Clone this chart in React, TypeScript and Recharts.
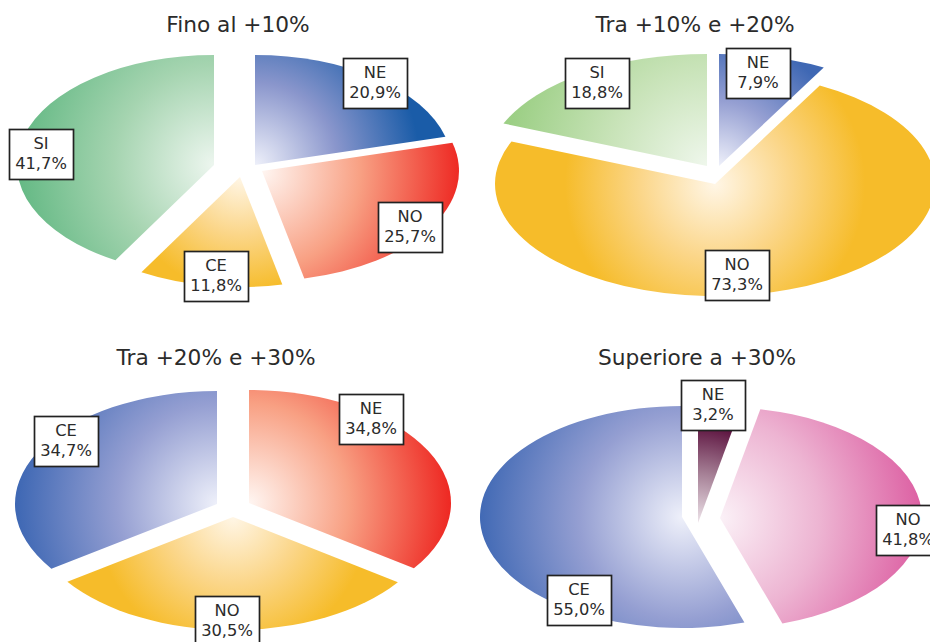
import React from 'react';
import { PieChart, Pie } from 'recharts';

const WIDTH = 930;
const HEIGHT = 642;
const FONT = '"DejaVu Sans", Verdana, sans-serif';
const TEXT_COLOR = '#2b2b2b';
const BOX_W = 64;
const BOX_H = 50;

const titles = ['Fino al +10%', 'Tra +10% e +20%', 'Tra +20% e +30%', 'Superiore a +30%'];

// area names and shares for each panel
const names1 = ['NE', 'NO', 'CE', 'SI'];
const values1 = [20.9, 25.7, 11.8, 41.7];
const names2 = ['NE', 'NO', 'SI'];
const values2 = [7.9, 73.3, 18.8];
const names3 = ['NE', 'NO', 'CE'];
const values3 = [34.8, 30.5, 34.7];
const names4 = ['NE', 'NO', 'CE'];
const values4 = [3.2, 41.8, 55.0];

// centre and halfway tints of each gradient
const PALE: Record<string, [string, string]> = {
    '#1a5ca8': ['#eef0fa', '#8a96cc'],
    '#3f68b4': ['#eef0fa', '#959fd2'],
    '#ee2a24': ['#fff6f2', '#f8a083'],
    '#f6bc2a': ['#fff6e6', '#fbd689'],
    '#62b883': ['#edf6ef', '#a5d4b0'],
    '#9ccf85': ['#eff7ec', '#c8e3b8'],
    '#5a0f3c': ['#eee4ea', '#a57f95'],
    '#dd62a4': ['#fbf1f7', '#edb4d2'],
};

interface PanelLayout {
    titleX: number;
    titleY: number;
    cx: number;
    cy: number;
    rx: number;
    ry: number;
    colors: string[];
    gradientR: number[];
    explode: [number, number][];
    boxes: [number, number][];
}

const panels: { id: string; names: string[]; values: number[]; layout: PanelLayout }[] = [
    {
        id: 'p1',
        names: names1,
        values: values1,
        layout: {
            titleX: 238,
            titleY: 32,
            cx: 235,
            cy: 170,
            rx: 197,
            ry: 110,
            colors: ['#1a5ca8', '#ee2a24', '#f6bc2a', '#62b883'],
            gradientR: [165, 197, 115, 200],
            explode: [[20, -5], [27, 1], [5, 7], [-21, -5]],
            boxes: [[343, 58], [378, 202], [184, 251], [9, 129]],
        },
    },
    {
        id: 'p2',
        names: names2,
        values: values2,
        layout: {
            titleX: 695,
            titleY: 32,
            cx: 713,
            cy: 172,
            rx: 220,
            ry: 112,
            colors: ['#3f68b4', '#f6bc2a', '#9ccf85'],
            gradientR: [130, 150, 200],
            explode: [[6, -6], [2, 12], [-6, -6]],
            boxes: [[726, 48], [705, 250], [565, 58]],
        },
    },
    {
        id: 'p3',
        names: names3,
        values: values3,
        layout: {
            titleX: 216,
            titleY: 365,
            cx: 233,
            cy: 510,
            rx: 202,
            ry: 113,
            colors: ['#ee2a24', '#f6bc2a', '#3f68b4'],
            gradientR: [200, 135, 200],
            explode: [[16, -7], [0, 7], [-16, -6]],
            boxes: [[339, 394], [195, 596], [34, 416]],
        },
    },
    {
        id: 'p4',
        names: names4,
        values: values4,
        layout: {
            titleX: 697,
            titleY: 365,
            cx: 697,
            cy: 520,
            rx: 202,
            ry: 111,
            colors: ['#5a0f3c', '#dd62a4', '#3f68b4'],
            gradientR: [100, 200, 205],
            explode: [[1, 3], [23, -2], [-15, -3]],
            boxes: [[681, 380], [876, 505], [547, 575]],
        },
    },
];

const RAD = Math.PI / 180;

// Recharts hands over a round sector; it is squashed here into an ellipse slice
const makeShape = (id: string, layout: PanelLayout) => (props: any) => {
    const { cx, cy, outerRadius, startAngle, endAngle, index } = props;
    const ratio = layout.ry / layout.rx;
    const ax = cx + layout.explode[index][0];
    const ay = cy + layout.explode[index][1];
    const pt = (a: number) => [
        ax + outerRadius * Math.cos(a * RAD),
        ay - outerRadius * ratio * Math.sin(a * RAD),
    ];
    const [x0, y0] = pt(startAngle);
    const [x1, y1] = pt(endAngle);
    const large = Math.abs(endAngle - startAngle) > 180 ? 1 : 0;
    const color = layout.colors[index];
    const gid = `grad-${id}-${index}`;
    return (
        <g>
            <defs>
                <radialGradient
                    id={gid}
                    gradientUnits="userSpaceOnUse"
                    cx={ax}
                    cy={ay}
                    r={layout.gradientR[index]}
                >
                    <stop offset="0%" stopColor={PALE[color][0]} />
                    <stop offset="50%" stopColor={PALE[color][1]} />
                    <stop offset="100%" stopColor={color} />
                </radialGradient>
            </defs>
            <path
                d={`M${ax},${ay} L${x0},${y0} A${outerRadius},${outerRadius * ratio} 0 ${large} 1 ${x1},${y1} Z`}
                fill={`url(#${gid})`}
            />
        </g>
    );
};

const makeLabel = (layout: PanelLayout) => (props: any) => {
    const { index, name, value } = props;
    const [x, y] = layout.boxes[index];
    const mid = x + BOX_W / 2;
    return (
        <g key={index}>
            <rect
                x={x + 0.5}
                y={y + 0.5}
                width={BOX_W}
                height={BOX_H}
                fill="#ffffff"
                stroke="#222222"
                strokeWidth={1.7}
            />
            <text x={mid} y={y + 20} textAnchor="middle" fontFamily={FONT} fontSize={16.3} fill={TEXT_COLOR}>
                {name}
            </text>
            <text x={mid} y={y + 40} textAnchor="middle" fontFamily={FONT} fontSize={16.3} fill={TEXT_COLOR}>
                {value.toFixed(1).replace('.', ',')}%
            </text>
        </g>
    );
};

export default function App() {
    return (
        <div style={{ position: 'absolute', left: 0, top: 0, width: WIDTH, height: HEIGHT, overflow: 'hidden', background: '#fff' }}>
            <PieChart width={WIDTH} height={HEIGHT} margin={{ top: 0, right: 0, bottom: 0, left: 0 }}>
                {panels.map((p) => (
                    <Pie
                        key={p.id}
                        data={p.names.map((name, i) => ({ name, value: p.values[i] }))}
                        dataKey="value"
                        nameKey="name"
                        cx={p.layout.cx}
                        cy={p.layout.cy}
                        innerRadius={0}
                        outerRadius={p.layout.rx}
                        startAngle={90}
                        endAngle={-270}
                        stroke="none"
                        isAnimationActive={false}
                        labelLine={false}
                        label={makeLabel(p.layout)}
                        shape={makeShape(p.id, p.layout)}
                    />
                ))}
                {panels.map((p, i) => (
                    <text
                        key={p.id}
                        x={p.layout.titleX}
                        y={p.layout.titleY}
                        textAnchor="middle"
                        fontFamily={FONT}
                        fontSize={21.7}
                        fill={TEXT_COLOR}
                    >
                        {titles[i]}
                    </text>
                ))}
            </PieChart>
        </div>
    );
}
